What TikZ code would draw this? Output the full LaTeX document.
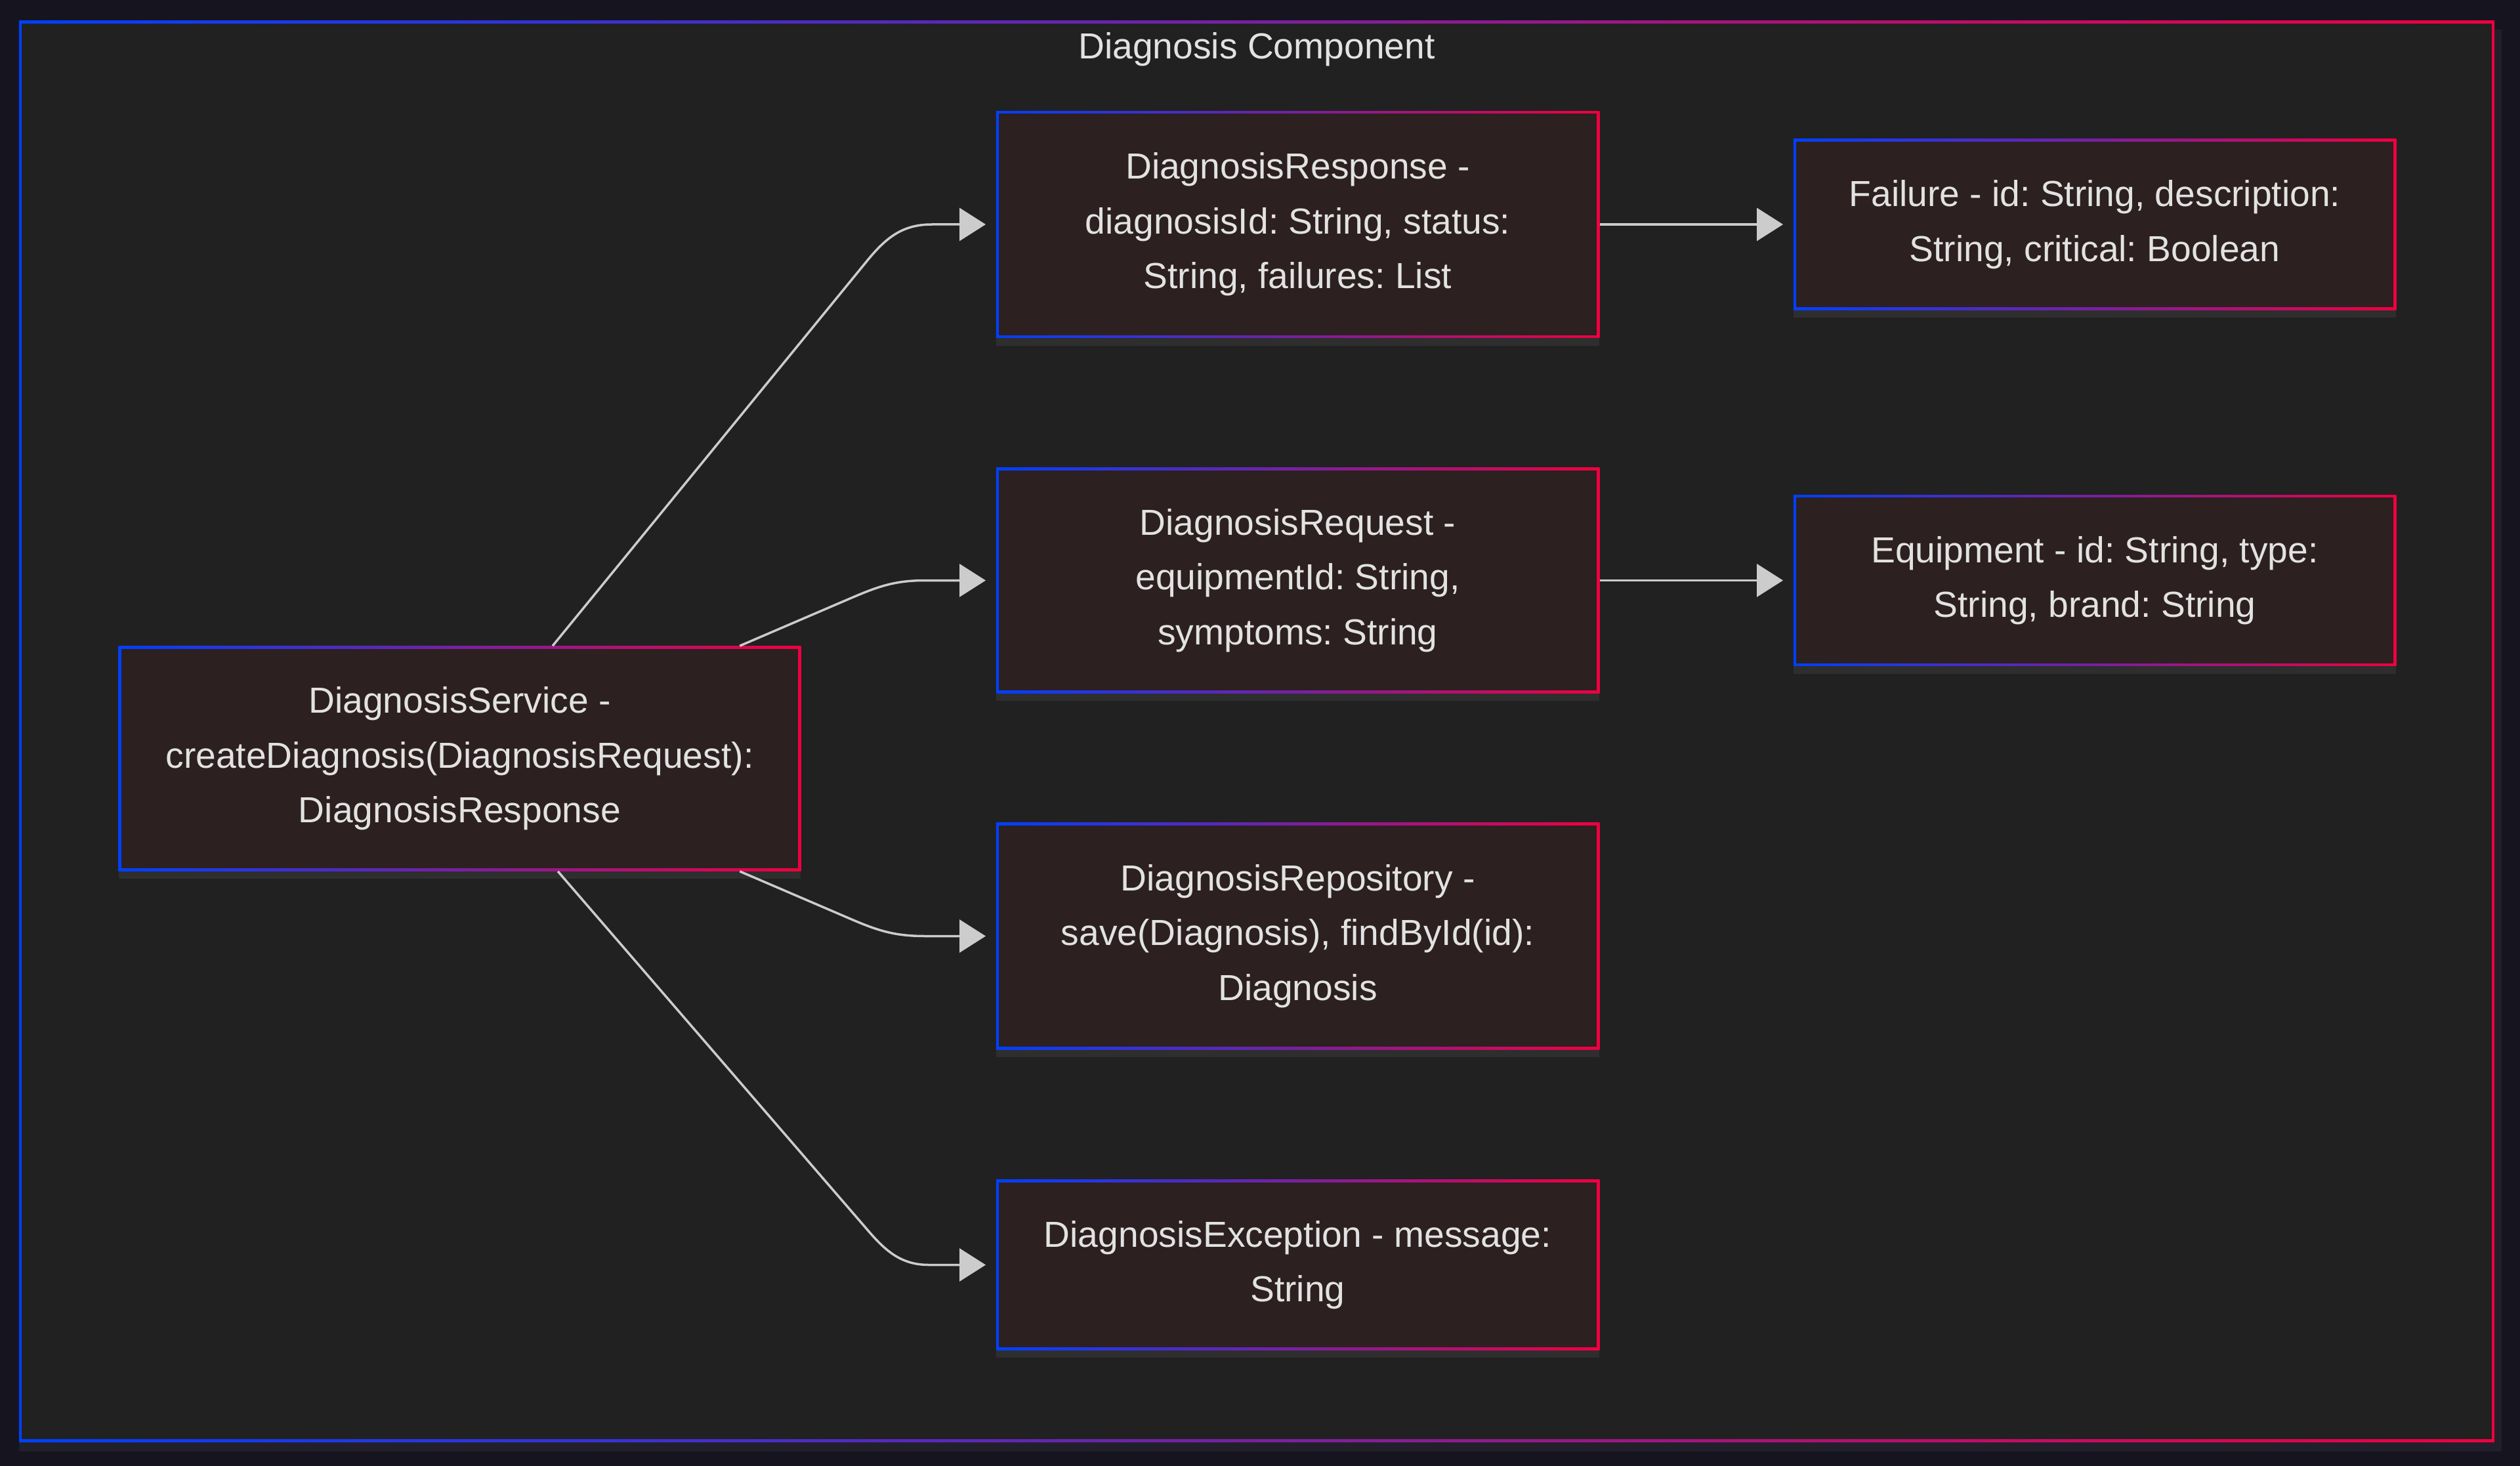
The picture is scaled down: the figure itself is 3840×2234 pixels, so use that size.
\documentclass[tikz,border=0pt]{standalone}
\usepackage{fontspec}
\setmainfont{Liberation Sans}
\usetikzlibrary{arrows.meta,shadows}
\definecolor{outbg}{RGB}{22,21,31}
\definecolor{inbg}{RGB}{33,33,33}
\definecolor{boxfill}{RGB}{44,32,32}
\definecolor{gblue}{RGB}{0,64,255}
\definecolor{gred}{RGB}{240,0,64}
\definecolor{txt}{RGB}{226,226,226}
\definecolor{edgec}{RGB}{204,204,204}
\frenchspacing
\begin{document}
\begin{tikzpicture}[x=0.01cm,y=-0.01cm,
  lbl/.style={text=txt, align=center, inner sep=0pt, font=\fontsize{15.7pt}{23.76pt}\selectfont\frenchspacing},
  gbox/.style={lbl, rectangle, left color=gblue, right color=gred,
    execute at begin node={\rule{0pt}{0.5cm}},
    path picture={\fill[boxfill] ([shift={(0.04cm,-0.04cm)}]path picture bounding box.north west) rectangle ([shift={(-0.04cm,0.04cm)}]path picture bounding box.south east);},
    drop shadow={shadow xshift=0cm, shadow yshift=-0.12cm, fill=white, opacity=0.06}},
  midbox/.style={gbox, minimum width=9.19cm},
  edge/.style={draw=edgec, line width=0.035cm, -{Triangle[length=0.4cm, width=0.5cm, fill=edgec]}, shorten >=0.15cm}
]
\useasboundingbox (0,0) rectangle (3840,2234);
\fill[outbg] (0,0) rectangle (3840,2234);
% cluster frame
\fill[white, opacity=0.05] (29,45) rectangle (3812,2212);
\shade[left color=gblue, right color=gred] (29,32) rectangle (3801,2197);
\fill[inbg] (33,36) rectangle (3797,2193);
\node[lbl] (title) at (1915,75) {Diagnosis Component};
% nodes
\node[gbox, minimum width=10.39cm, minimum height=3.42cm] (svc) at (700.5,1156) {DiagnosisService -\\createDiagnosis(DiagnosisRequest):\\DiagnosisResponse};
\node[midbox, minimum height=3.45cm] (resp) at (1977.5,342) {DiagnosisResponse -\\diagnosisId: String, status:\\String, failures: List};
\node[midbox, minimum height=3.43cm] (req) at (1977.5,884.5) {DiagnosisRequest -\\equipmentId: String,\\symptoms: String};
\node[midbox, minimum height=3.45cm] (repo) at (1977.5,1426.5) {DiagnosisRepository -\\save(Diagnosis), findById(id):\\Diagnosis};
\node[midbox, minimum height=2.59cm] (exc) at (1977.5,1927.5) {DiagnosisException - message:\\String};
\node[gbox, minimum width=9.18cm, minimum height=2.60cm] (fail) at (3192,342) {Failure - id: String, description:\\String, critical: Boolean};
\node[gbox, minimum width=9.18cm, minimum height=2.60cm] (equip) at (3192,884.5) {Equipment - id: String, type:\\String, brand: String};
% edges
\draw[edge] ([xshift=1.415cm]svc.north) -- (1320,399) .. controls (1350,362) and (1375,342) .. (1420,342) -- (resp.west);
\draw[edge] ([xshift=4.265cm]svc.north) -- (1300,910) .. controls (1340,893) and (1365,884.5) .. (1410,884.5) -- (req.west);
\draw[edge] ([xshift=4.265cm]svc.south) -- (1300,1402) .. controls (1340,1419) and (1365,1426.5) .. (1410,1426.5) -- (repo.west);
\draw[edge] ([xshift=1.495cm]svc.south) -- (1320,1872) .. controls (1348,1905) and (1372,1927.5) .. (1415,1927.5) -- (exc.west);
\draw[edge] (resp.east) -- (fail.west);
\draw[edge] (req.east) -- (equip.west);
\end{tikzpicture}
\end{document}
